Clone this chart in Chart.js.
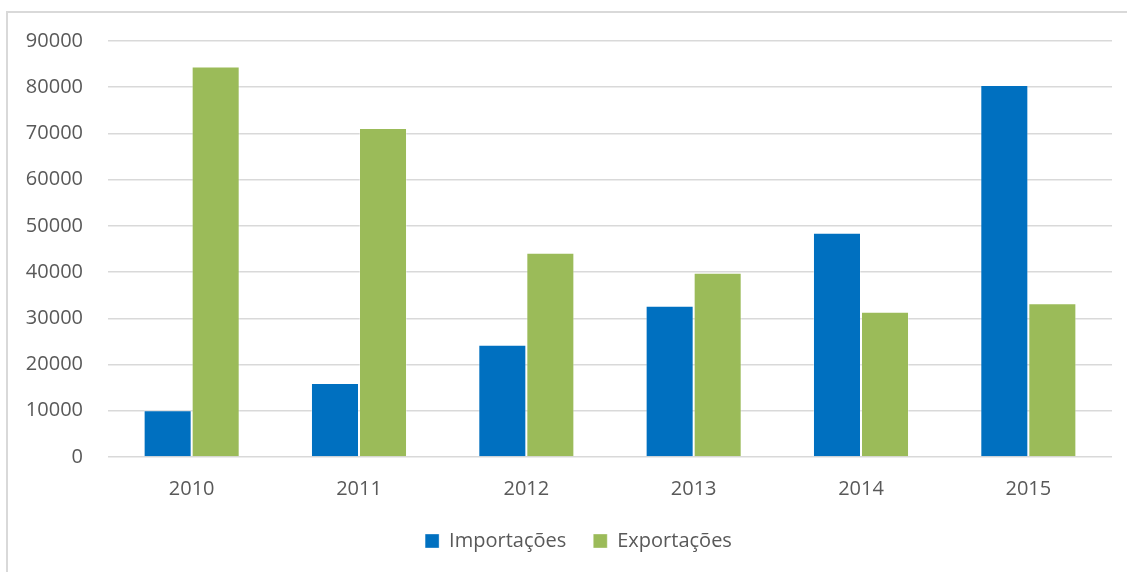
<!DOCTYPE html>
<html>
<head>
<meta charset="utf-8">
<script src="https://cdn.jsdelivr.net/npm/chart.js@4/dist/chart.umd.min.js"></script>
<style>
	body { margin: 0; background: #ffffff; overflow: hidden; }
	#box {
		position: absolute; left: 6px; top: 11px;
		width: 1141px; height: 559px;
		border-left: 2px solid #d9d9d9; border-top: 2px solid #d9d9d9;
	}
</style>
</head>
<body>
<div id="box"><canvas id="tradeGraph"></canvas></div>
<script>
var years = ['2010','2011','2012','2013','2014','2015'];
var importacoes = [10100, 16000, 24300, 32700, 48500, 80500];
var exportacoes = [84500, 71200, 44200, 39850, 31400, 33250];
var yTicks = [0, 10000, 20000, 30000, 40000, 50000, 60000, 70000, 80000, 90000];

var fontFamily = "'Open Sans', sans-serif";
var tradeGraph = document.getElementById('tradeGraph');
var tradeGraphChart = new Chart(tradeGraph, {
	type: 'bar',
	data: {
		labels: years,
		datasets: [{
			label: 'Importações',
			data: importacoes,
			backgroundColor: '#0070C0',
			borderColor: 'rgba(255,255,255,0.35)',
			borderWidth: 1
		}, {
			label: 'Exportações',
			data: exportacoes,
			backgroundColor: '#9BBB59',
			borderColor: 'rgba(255,255,255,0.35)',
			borderWidth: 1
		}]
	},
	options: {
		responsive: true,
		maintainAspectRatio: false,
		animation: false,
		layout: {
			padding: { left: 0, right: 0, top: 28, bottom: 11 }
		},
		datasets: {
			bar: { categoryPercentage: 0.574, barPercentage: 1 }
		},
		plugins: {
			legend: {
				position: 'bottom',
				labels: {
					boxWidth: 14,
					boxHeight: 14,
					padding: 27,
					color: '#595959',
					font: { family: fontFamily, size: 20 }
				}
			},
			tooltip: { enabled: false }
		},
		scales: {
			x: {
				afterFit: function(scale) {
					scale.height = 47;
					scale.paddingLeft = 0;
					scale.paddingRight = 0;
				},
				grid: { display: false, drawTicks: false },
				border: { display: false },
				ticks: {
					color: '#595959',
					padding: 20,
					font: { family: fontFamily, size: 20 }
				}
			},
			y: {
				min: 0,
				max: 90000,
				afterFit: function(scale) {
					scale.width = 100;
					scale.paddingTop = 12;
					scale.paddingBottom = 12;
				},
				afterBuildTicks: function(scale) {
					scale.ticks = yTicks.map(function(v) { return { value: v }; });
				},
				grid: { color: '#d9d9d9', lineWidth: 1.5, drawTicks: false },
				border: { display: false },
				ticks: {
					color: '#595959',
					padding: 25,
					font: { family: fontFamily, size: 20 },
					callback: function(v) { return String(v); }
				}
			},
			// empty right-hand strip, keeps the plot off the right edge
			yRight: {
				position: 'right',
				afterFit: function(scale) {
					scale.width = 37;
					scale.paddingTop = 0;
					scale.paddingBottom = 0;
				},
				grid: { display: false, drawTicks: false },
				border: { display: false },
				ticks: { display: false }
			}
		}
	}
});
</script>
</body>
</html>
